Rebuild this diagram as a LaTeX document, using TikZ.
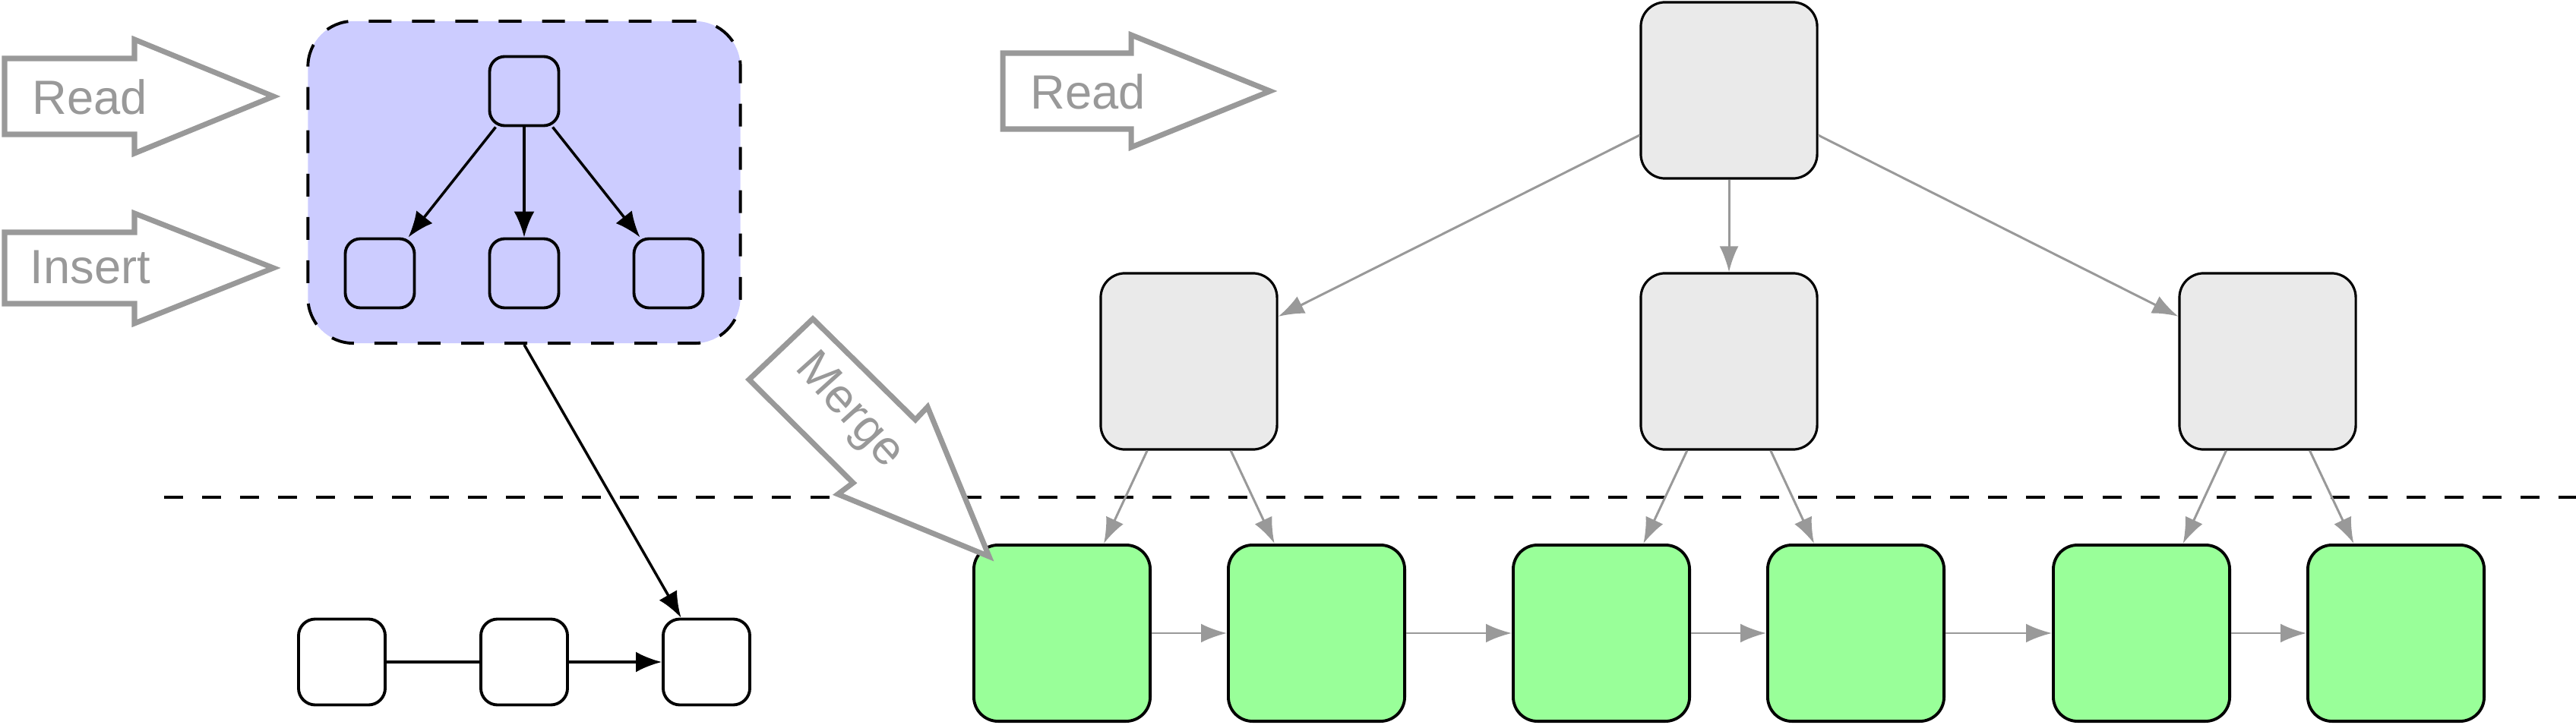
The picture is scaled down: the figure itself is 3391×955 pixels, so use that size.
\documentclass[tikz,border=0pt]{standalone}
\usepackage{fontspec}
\setmainfont{Liberation Sans}
\usetikzlibrary{arrows.meta}

\definecolor{blockgray}{HTML}{999999}
\definecolor{cachefill}{HTML}{CCCCFF}
\definecolor{innerfill}{HTML}{EAEAEA}
\definecolor{leaffill}{HTML}{99FF99}

\begin{document}
\begin{tikzpicture}[x=0.01cm,y=-0.01cm,
    cachebox/.style={draw,fill=cachefill,line width=1.1pt,dash pattern=on 0.3cm off 0.27cm,rounded corners=0.6cm,minimum width=5.69cm,minimum height=4.24cm},
    cachenode/.style={draw,fill=cachefill,line width=1.1pt,rounded corners=0.2cm,minimum size=0.91cm},
    listnode/.style={draw,fill=white,line width=1.1pt,rounded corners=0.22cm,minimum width=1.14cm,minimum height=1.13cm},
    innernode/.style={draw,fill=innerfill,line width=0.9pt,rounded corners=0.32cm,minimum size=2.32cm},
    leafnode/.style={draw,fill=leaffill,line width=1.1pt,rounded corners=0.32cm,minimum size=2.32cm},
    blockarrow/.style={draw=blockgray,line width=2pt,fill=white},
    blocktext/.style={text=blockgray,font=\fontsize{18}{21}\selectfont,inner sep=0pt},
    link/.style={line width=1pt,-{Latex[length=0.34cm,width=0.27cm]}},
    graylink/.style={draw=blockgray,line width=0.85pt,-{Latex[length=0.34cm,width=0.25cm]}}
]
    \useasboundingbox (0,0) rectangle (3391,955);

    % boundary between memory and disk
    \coordinate (cutl) at (216,655);
    \coordinate (cutr) at (3391,655);
    \draw[line width=1.1pt,dash pattern=on 0.25cm off 0.25cm] (cutl) -- (cutr);

    % cache tree
    \node[cachebox] (cache) at (690,240) {};
    \node[cachenode] (ctop) at (690,120) {};
    \node[cachenode] (cleft) at (500,360) {};
    \node[cachenode] (cmid) at (690,360) {};
    \node[cachenode] (cright) at (880,360) {};
    \draw[link] (ctop) -- (cleft);
    \draw[link] (ctop) -- (cmid);
    \draw[link] (ctop) -- (cright);

    % log
    \node[listnode] (log1) at (450,872) {};
    \node[listnode] (log2) at (690,872) {};
    \node[listnode] (log3) at (930,872) {};
    \draw[line width=1pt] (log1) -- (log2);
    \draw[link] (log2) -- (log3);
    \draw[link] (cache.south) -- (log3);

    % read / insert arrows
    \draw[blockarrow] (6,77) -- (177,77) -- (177,52) -- (360,127) -- (177,202) -- (177,177) -- (6,177) -- cycle;
    \node[blocktext] (readl) at (118,128) {Read};
    \draw[blockarrow] (6,306) -- (177,306) -- (177,281) -- (360,353) -- (177,426) -- (177,400) -- (6,400) -- cycle;
    \node[blocktext] (insert) at (119,352) {Insert};
    \draw[blockarrow] (1320,70) -- (1489,70) -- (1489,46) -- (1672,120) -- (1489,194) -- (1489,170) -- (1320,170) -- cycle;
    \node[blocktext] (readr) at (1432,121) {Read};

    % on-disk tree
    \node[innernode] (root) at (2276,119) {};
    \node[innernode] (in1) at (1565,476) {};
    \node[innernode] (in2) at (2276,476) {};
    \node[innernode] (in3) at (2985,476) {};
    \draw[graylink] (root) -- (in1);
    \draw[graylink] (root) -- (in2);
    \draw[graylink] (root) -- (in3);

    \foreach \x [count=\i] in {1398,1733,2108,2443,2819,3154}
        \node[leafnode] (leaf\i) at (\x,834) {};
    \foreach \i [evaluate=\i as \j using int(\i+1)] in {1,...,5}
        \draw[graylink] (leaf\i) -- (leaf\j);
    \draw[graylink] (in1) -- (leaf1);
    \draw[graylink] (in1) -- (leaf2);
    \draw[graylink] (in2) -- (leaf3);
    \draw[graylink] (in2) -- (leaf4);
    \draw[graylink] (in3) -- (leaf5);
    \draw[graylink] (in3) -- (leaf6);

    % merge arrow
    \draw[blockarrow] (986,500) -- (1070,420) -- (1205,553) -- (1221,536) -- (1302,733) -- (1103,651) -- (1123,636) -- cycle;
    \node[blocktext,rotate=-48] (merge) at (1117,542) {Merge};
\end{tikzpicture}
\end{document}
